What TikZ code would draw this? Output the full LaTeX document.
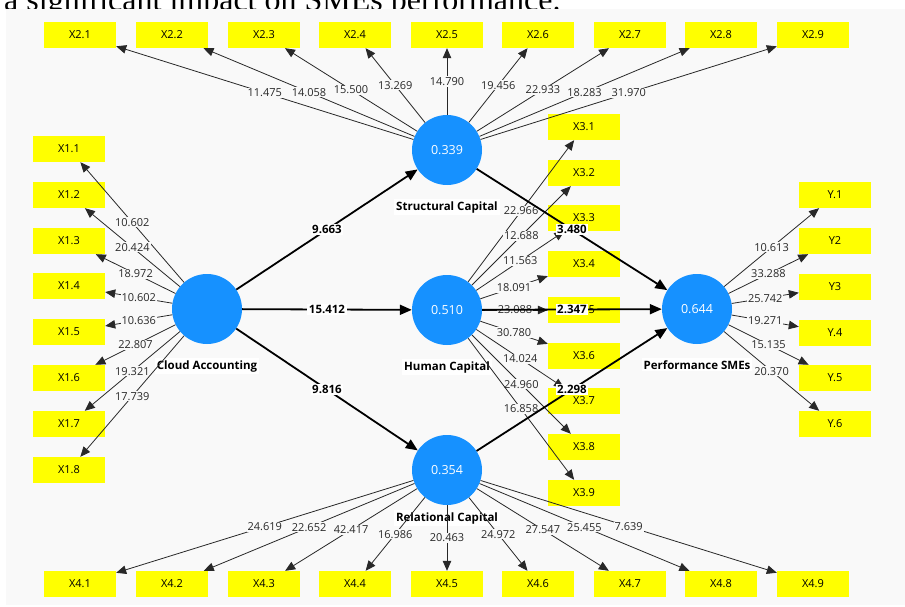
\documentclass[tikz,border=0pt]{standalone}
\usepackage{fontspec}
\setmainfont{Liberation Serif}
\setsansfont{Open Sans}
\usepackage{tikz}
\usetikzlibrary{shapes, arrows.meta, positioning}
\definecolor{plsblue}{RGB}{22,145,255}
\definecolor{plsyellow}{RGB}{255,255,0}
\definecolor{panel}{RGB}{249,249,249}
\definecolor{loadgray}{RGB}{40,40,40}
\tikzstyle{ind} = [rectangle, fill=plsyellow, minimum width=72pt, minimum height=26pt, inner sep=0pt, font=\sffamily\fontsize{11}{13}\selectfont]
\tikzstyle{lv} = [circle, fill=plsblue, minimum size=70pt, inner sep=0pt, text=white, font=\sffamily\fontsize{12.5}{14}\selectfont]
\tikzstyle{lvlab} = [fill=white, inner sep=2pt, label distance=14pt, font=\sffamily\bfseries\fontsize{11.5}{13}\selectfont]
\tikzstyle{line} = [draw, loadgray, line width=0.8pt, -{Triangle[length=10pt,width=8.5pt]}]
\tikzstyle{struct} = [draw, black, line width=1.8pt, -{Triangle[length=12pt,width=10pt]}]
\tikzstyle{load} = [midway, fill=panel, inner sep=1pt, text=loadgray, font=\sffamily\fontsize{11}{13}\selectfont]
\tikzstyle{coef} = [midway, fill=white, inner sep=1.5pt, text=black, font=\sffamily\bfseries\fontsize{11.5}{13}\selectfont]

\begin{document}
\begin{tikzpicture}[x=1pt, y=-1pt]
			\clip (0,0) rectangle (905,607);
			\node [anchor=base west, inner sep=0pt, font=\fontsize{32}{34}\selectfont] (head) at (4,11) {a significant impact on SMEs performance.};
			\fill [panel] (6,9) rectangle (905,605);
			
			% indicators
			\node [ind] (x21) at (80,35) {X2.1};
			\node [ind] (x22) at (172,35) {X2.2};
			\node [ind] (x23) at (264,35) {X2.3};
			\node [ind] (x24) at (355,35) {X2.4};
			\node [ind] (x25) at (447,35) {X2.5};
			\node [ind] (x26) at (538,35) {X2.6};
			\node [ind] (x27) at (630,35) {X2.7};
			\node [ind] (x28) at (721,35) {X2.8};
			\node [ind] (x29) at (813,35) {X2.9};
			
			\node [ind] (x11) at (69,149) {X1.1};
			\node [ind] (x12) at (69,195) {X1.2};
			\node [ind] (x13) at (69,241) {X1.3};
			\node [ind] (x14) at (69,286) {X1.4};
			\node [ind] (x15) at (69,332) {X1.5};
			\node [ind] (x16) at (69,378) {X1.6};
			\node [ind] (x17) at (69,424) {X1.7};
			\node [ind] (x18) at (69,470) {X1.8};
			
			\node [ind] (x31) at (584,127) {X3.1};
			\node [ind] (x32) at (584,173) {X3.2};
			\node [ind] (x33) at (584,218) {X3.3};
			\node [ind] (x34) at (584,264) {X3.4};
			\node [ind] (x35) at (584,310) {X3.5};
			\node [ind] (x36) at (584,356) {X3.6};
			\node [ind] (x37) at (584,401) {X3.7};
			\node [ind] (x38) at (584,447) {X3.8};
			\node [ind] (x39) at (584,493) {X3.9};
			
			\node [ind] (y1) at (835,195) {Y.1};
			\node [ind] (y2) at (835,241) {Y2};
			\node [ind] (y3) at (835,287) {Y3};
			\node [ind] (y4) at (835,333) {Y.4};
			\node [ind] (y5) at (835,378) {Y.5};
			\node [ind] (y6) at (835,424) {Y.6};
			
			\node [ind] (x41) at (80,584) {X4.1};
			\node [ind] (x42) at (172,584) {X4.2};
			\node [ind] (x43) at (264,584) {X4.3};
			\node [ind] (x44) at (355,584) {X4.4};
			\node [ind] (x45) at (447,584) {X4.5};
			\node [ind] (x46) at (538,584) {X4.6};
			\node [ind] (x47) at (630,584) {X4.7};
			\node [ind] (x48) at (721,584) {X4.8};
			\node [ind] (x49) at (813,584) {X4.9};
			
			% constructs
			\node [lv, label={[lvlab]below:Cloud Accounting}] (ca) at (207,309) {};
			\node [lv, label={[lvlab]below:Structural Capital}] (sc) at (447,150) {0.339};
			\node [lv, label={[lvlab]below:Human Capital}] (hc) at (447,310) {0.510};
			\node [lv, label={[lvlab, label distance=5pt]below:Relational Capital}] (rc) at (447,470) {0.354};
			\node [lv, label={[lvlab]below:Performance SMEs}] (ps) at (697,309) {0.644};
			
			% outer loadings
			\path [line] (sc) -- node [load] {11.475} (x21);
			\path [line] (sc) -- node [load] {14.058} (x22);
			\path [line] (sc) -- node [load] {15.500} (x23);
			\path [line] (sc) -- node [load] {13.269} (x24);
			\path [line] (sc) -- node [load] {14.790} (x25);
			\path [line] (sc) -- node [load] {19.456} (x26);
			\path [line] (sc) -- node [load] {22.933} (x27);
			\path [line] (sc) -- node [load] {18.283} (x28);
			\path [line] (sc) -- node [load] {31.970} (x29);
			
			\path [line] (ca) -- node [load] {10.602} (x11);
			\path [line] (ca) -- node [load] {20.424} (x12);
			\path [line] (ca) -- node [load] {18.972} (x13);
			\path [line] (ca) -- node [load] {10.602} (x14);
			\path [line] (ca) -- node [load] {10.636} (x15);
			\path [line] (ca) -- node [load] {22.807} (x16);
			\path [line] (ca) -- node [load] {19.321} (x17);
			\path [line] (ca) -- node [load] {17.739} (x18);
			
			\path [line] (hc) -- node [load] {22.966} (x31);
			\path [line] (hc) -- node [load] {12.688} (x32);
			\path [line] (hc) -- node [load] {11.563} (x33);
			\path [line] (hc) -- node [load] {18.091} (x34);
			\path [line] (hc) -- node [load] {23.088} (x35);
			\path [line] (hc) -- node [load] {30.780} (x36);
			\path [line] (hc) -- node [load] {14.024} (x37);
			\path [line] (hc) -- node [load] {24.960} (x38);
			\path [line] (hc) -- node [load] {16.858} (x39);
			
			\path [line] (ps) -- node [load] {10.613} (y1);
			\path [line] (ps) -- node [load] {33.288} (y2);
			\path [line] (ps) -- node [load] {25.742} (y3);
			\path [line] (ps) -- node [load] {19.271} (y4);
			\path [line] (ps) -- node [load] {15.135} (y5);
			\path [line] (ps) -- node [load] {20.370} (y6);
			
			\path [line] (rc) -- node [load] {24.619} (x41);
			\path [line] (rc) -- node [load] {22.652} (x42);
			\path [line] (rc) -- node [load] {42.417} (x43);
			\path [line] (rc) -- node [load] {16.986} (x44);
			\path [line] (rc) -- node [load] {20.463} (x45);
			\path [line] (rc) -- node [load] {24.972} (x46);
			\path [line] (rc) -- node [load] {27.547} (x47);
			\path [line] (rc) -- node [load] {25.455} (x48);
			\path [line] (rc) -- node [load] {7.639} (x49);
			
			% inner model
			\path [struct] (ca) -- node [coef] {9.663} (sc);
			\path [struct] (ca) -- node [coef] {15.412} (hc);
			\path [struct] (ca) -- node [coef] {9.816} (rc);
			\path [struct] (sc) -- node [coef] {3.480} (ps);
			\path [struct] (hc) -- node [coef] {2.347} (ps);
			\path [struct] (rc) -- node [coef] {2.298} (ps);
		\end{tikzpicture}
\end{document}
